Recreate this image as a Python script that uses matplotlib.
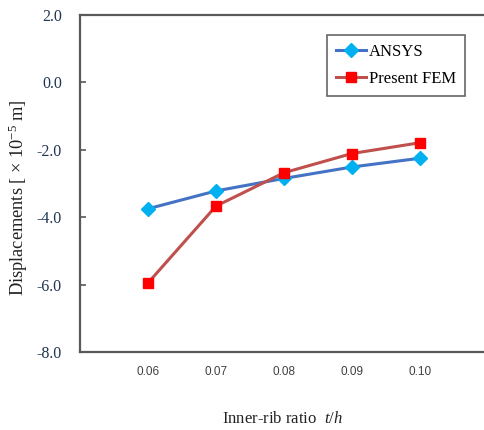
import matplotlib
matplotlib.use("Agg")
import matplotlib.pyplot as plt

# Data
ratios = [0.06, 0.07, 0.08, 0.09, 0.10]
ratio_labels = ["0.06", "0.07", "0.08", "0.09", "0.10"]
ansys = [-3.75, -3.22, -2.85, -2.51, -2.25]
present_fem = [-5.95, -3.67, -2.68, -2.11, -1.79]
yticks = [2.0, 0.0, -2.0, -4.0, -6.0, -8.0]
ytick_labels = ["2.0", "0.0", "-2.0", "-4.0", "-6.0", "-8.0"]

plt.rcParams["mathtext.fontset"] = "custom"
plt.rcParams["mathtext.rm"] = "Liberation Serif"
plt.rcParams["mathtext.it"] = "Liberation Serif:italic"
plt.rcParams["mathtext.bf"] = "Liberation Serif:bold"

W, H = 484, 430
fig = plt.figure(figsize=(W / 100, H / 100), dpi=100)
ax = fig.add_axes([80 / W, 1 - 352 / H, (484 - 80) / W, (352 - 15) / H])

serif = "Liberation Serif"
spine_c = "#595959"

ax.plot(ratios, ansys, color="#4472C4", lw=2.2, marker="D", ms=7.5,
        mfc="#00B0F0", mec="#00B0F0", label="ANSYS", zorder=3)
ax.plot(ratios, present_fem, color="#C0504D", lw=2.2, marker="s", ms=7,
        mfc="#FF0000", mec="#FF0000", label="Present FEM", zorder=4)

ax.set_xlim(0.05, 0.05 + 404 / 68 * 0.01)
ax.set_ylim(-8.0, 2.0)
ax.set_xticks(ratios)
ax.set_xticklabels(ratio_labels, fontsize=8.5, family="Liberation Sans", color="#404040")
ax.set_yticks(yticks)
ax.set_yticklabels(ytick_labels, fontsize=11.5, family=serif, color="#1F3550")
ax.tick_params(axis="x", length=0, pad=10)
ax.tick_params(axis="y", direction="in", length=4, width=1.2, color=spine_c, pad=13)

for s in ["top", "bottom", "left"]:
    ax.spines[s].set_color(spine_c)
    ax.spines[s].set_linewidth(1.6)
ax.spines["right"].set_visible(False)

ax.set_xlabel("Inner-rib ratio  $\\it{t/h}$", fontsize=12, family=serif, color="#222222")
ax.xaxis.set_label_coords((282 - 80) / 404, -(419 - 352) / 337)
ax.xaxis.label.set_va("center")
ax.set_ylabel("Displacements [ × 10$^{-5}$ m]", fontsize=13.2, family=serif, color="#222222")
ax.yaxis.set_label_coords(-(80 - 18) / 404, (352 - 198) / 337)
ax.yaxis.label.set_va("center")

leg = ax.legend(loc="upper left", bbox_to_anchor=((327 - 80) / 404, 1 - (35 - 15) / 337),
                prop={"family": serif, "size": 12}, frameon=True, fancybox=False,
                handlelength=1.8, handletextpad=0.15, borderpad=0.55, labelspacing=0.65,
                borderaxespad=0)
leg.get_frame().set_edgecolor("#404040")
leg.get_frame().set_linewidth(1.2)

fig.savefig("out.png", dpi=100)
